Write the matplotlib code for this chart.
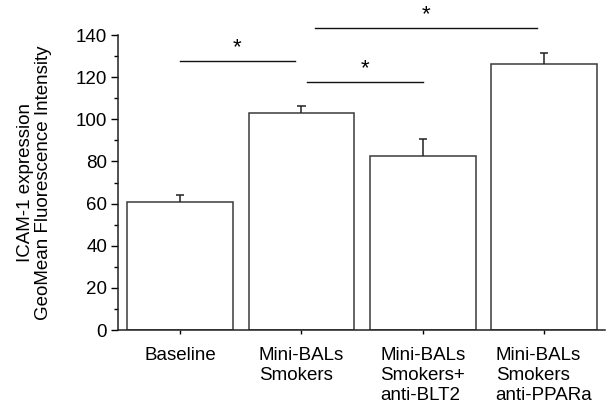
import numpy as np
import matplotlib.pyplot as plt
from matplotlib.ticker import MultipleLocator

plt.rcParams['font.family'] = ['Liberation Sans', 'DejaVu Sans']

# data
groups = ["Baseline", "Mini-BALs\nSmokers", "Mini-BALs\nSmokers+\nanti-BLT2", "Mini-BALs\nSmokers\nanti-PPARa"]
means = [60.8, 103.0, 82.5, 126.3]
errors = [3.3, 3.3, 8.0, 5.0]

# significance brackets: (x start, x end, y level)
sig_x0 = [0.0, 1.05, 1.11]
sig_x1 = [0.945, 2.0, 2.94]
sig_y = [127.7, 117.8, 143.5]

fig = plt.figure(figsize=(6.06, 4.07), dpi=100)
ax = fig.add_axes([0.195, 0.189, 0.803, 0.725])

x = np.arange(len(groups))
ax.bar(x, means, width=0.87, color='white', edgecolor='#3a3a3a', linewidth=1.1, zorder=2)
# upper-only error bars with a cap
tops = np.array(means) + np.array(errors)
ax.vlines(x, means, tops, color='#222222', linewidth=1.1, zorder=3)
ax.hlines(tops, x - 0.035, x + 0.035, color='#222222', linewidth=1.1, zorder=3)

for a, b, y in zip(sig_x0, sig_x1, sig_y):
    ax.plot([a, b], [y, y], color='#111111', linewidth=1.0, clip_on=False)
    ax.text((a + b) / 2, y + 1.2, "*", ha='center', va='bottom', fontsize=16, clip_on=False)

ax.set_xlim(-0.51, 3.5)
ax.set_ylim(0, 140)
ax.yaxis.set_major_locator(MultipleLocator(20))
ax.yaxis.set_minor_locator(MultipleLocator(10))
ax.set_xticks(x)
ax.set_xticklabels(groups, multialignment='left', linespacing=1.25)

ax.tick_params(axis='y', which='major', direction='out', length=5, width=1, labelsize=13.5, pad=3)
ax.tick_params(axis='y', which='minor', direction='out', length=3, width=1)
ax.tick_params(axis='x', direction='out', length=3, width=1, labelsize=13.5, pad=9)

ax.spines['top'].set_visible(False)
ax.spines['right'].set_visible(False)
for s in ['left', 'bottom']:
    ax.spines[s].set_linewidth(1.1)
    ax.spines[s].set_color('#222222')

ax.set_ylabel("ICAM-1 expression\nGeoMean Fluorescence Intensity", fontsize=13.5, linespacing=1.05)
ax.yaxis.set_label_coords(-0.137, 0.5)

fig.savefig("out.png", dpi=100)
